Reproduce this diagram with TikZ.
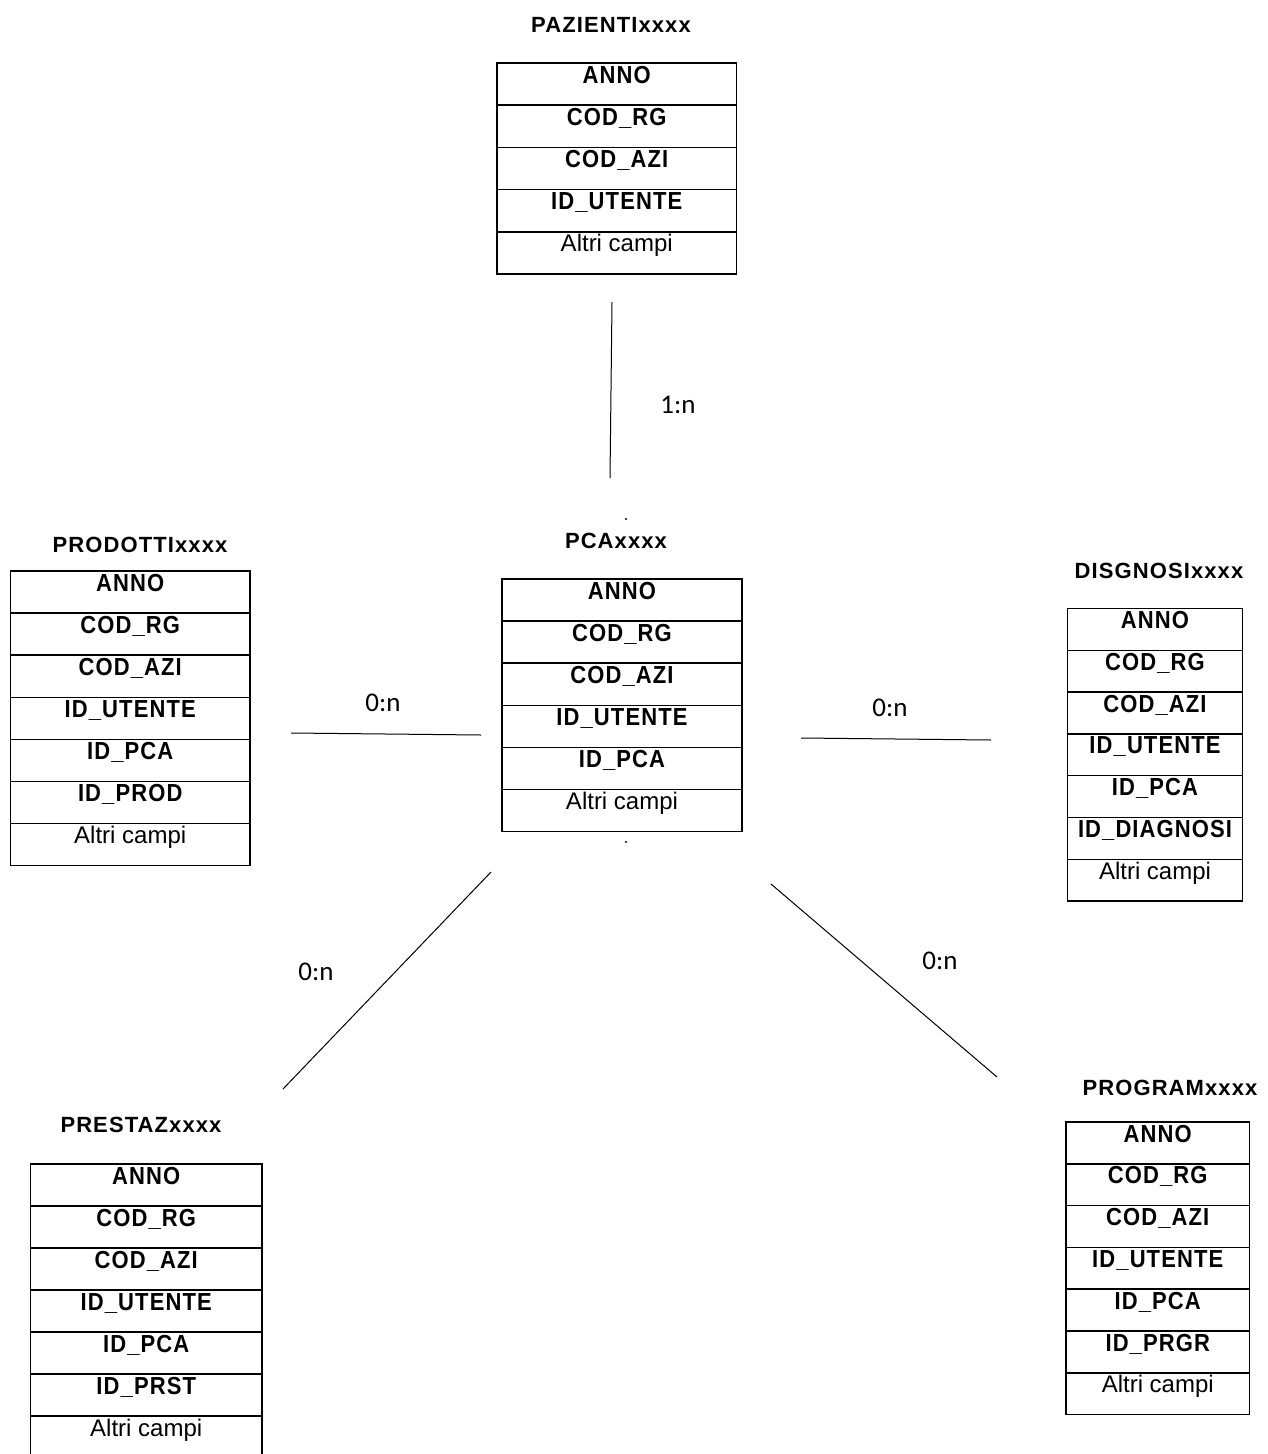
\documentclass[tikz,border=0pt]{standalone}
\usepackage{graphicx}
\usepackage{fontspec}
\setmainfont{Liberation Sans}
\newfontfamily\spacedfont[LetterSpace=5]{Liberation Sans}
\newfontfamily\lblfont{Carlito}
\newcommand\altri{\scalebox{1}[0.893]{\normalfont\fontsize{24}{26}\selectfont Altri campi}}
\newcommand\ertable[6]{%
  \foreach \f [count=\i] in {#6} {
    \node[cell, minimum width={#3-#2}, minimum height=#5] (#1-\i) at (#2, {#4+(\i-1)*#5}) {};
    \node[fld] (#1-t\i) at ({(#2+#3)/2}, {#4+(\i-1)*#5+20}) {\scalebox{1}[1.12]{\f}};
  }%
}
\begin{document}
\begin{tikzpicture}[x=1pt,y=-1pt,
  cell/.style={draw, line width=1.5pt, anchor=north west, inner sep=0pt, outer sep=0pt},
  fld/.style={anchor=base, inner sep=0pt, font=\spacedfont\bfseries\fontsize{22}{24}\selectfont},
  ttl/.style={anchor=base, inner sep=0pt, font=\spacedfont\bfseries\fontsize{22}{24}\selectfont},
  conn/.style={line width=1pt},
  lbl/.style={inner sep=0pt, font=\lblfont\fontsize{27}{30}\selectfont},
  dot/.style={fill, circle, inner sep=0pt, minimum size=2.2pt}
]
\useasboundingbox (0,0) rectangle (1268,1454);
\clip (0,0) rectangle (1268,1454);
\fill[white] (0,0) rectangle (1268,1454);

% titles
\node[ttl] (pz-title) at (611,32) {PAZIENTIxxxx};
\node[ttl] (pca-title) at (616,548) {PCAxxxx};
\node[ttl] (pr-title) at (140,552) {PRODOTTIxxxx};
\node[ttl] (di-title) at (1159,578) {DISGNOSIxxxx};
\node[ttl] (ps-title) at (141,1132) {PRESTAZxxxx};
\node[ttl] (pg-title) at (1170,1095) {PROGRAMxxxx};

% tables
\ertable{pz}{497}{736.5}{63}{42.2}{ANNO,COD\_RG,COD\_AZI,ID\_UTENTE,\altri}
\ertable{pca}{502}{742}{579}{42.1}{ANNO,COD\_RG,COD\_AZI,ID\_UTENTE,ID\_PCA,\altri}
\ertable{pr}{10.5}{250}{571}{42.1}{ANNO,COD\_RG,COD\_AZI,ID\_UTENTE,ID\_PCA,ID\_PROD,\altri}
\ertable{di}{1067.5}{1242.5}{608.5}{41.8}{ANNO,COD\_RG,COD\_AZI,ID\_UTENTE,ID\_PCA,ID\_DIAGNOSI,\altri}
\ertable{ps}{30.5}{262}{1164}{42}{ANNO,COD\_RG,COD\_AZI,ID\_UTENTE,ID\_PCA,ID\_PRST,\altri}
\ertable{pg}{1066}{1249.5}{1122}{41.8}{ANNO,COD\_RG,COD\_AZI,ID\_UTENTE,ID\_PCA,ID\_PRGR,\altri}

% small dots
\node[dot] (d1) at (626,519) {};
\node[dot] (d2) at (626,842) {};

% connectors
\coordinate (a1) at (612,302); \coordinate (b1) at (610,478);
\coordinate (a2) at (291,733); \coordinate (b2) at (481,735);
\coordinate (a3) at (801,738); \coordinate (b3) at (991,740);
\coordinate (a4) at (491,872); \coordinate (b4) at (283,1089);
\coordinate (a5) at (771,884); \coordinate (b5) at (997,1077);
\draw[conn] (a1) -- (b1);
\draw[conn] (a2) -- (b2);
\draw[conn] (a3) -- (b3);
\draw[conn] (a4) -- (b4);
\draw[conn] (a5) -- (b5);

% labels
\node[lbl] (l1) at (678,405) {1:n};
\node[lbl] (l2) at (383,703) {0:n};
\node[lbl] (l3) at (890,708) {0:n};
\node[lbl] (l4) at (316,972) {0:n};
\node[lbl] (l5) at (940,961) {0:n};
\end{tikzpicture}
\end{document}
